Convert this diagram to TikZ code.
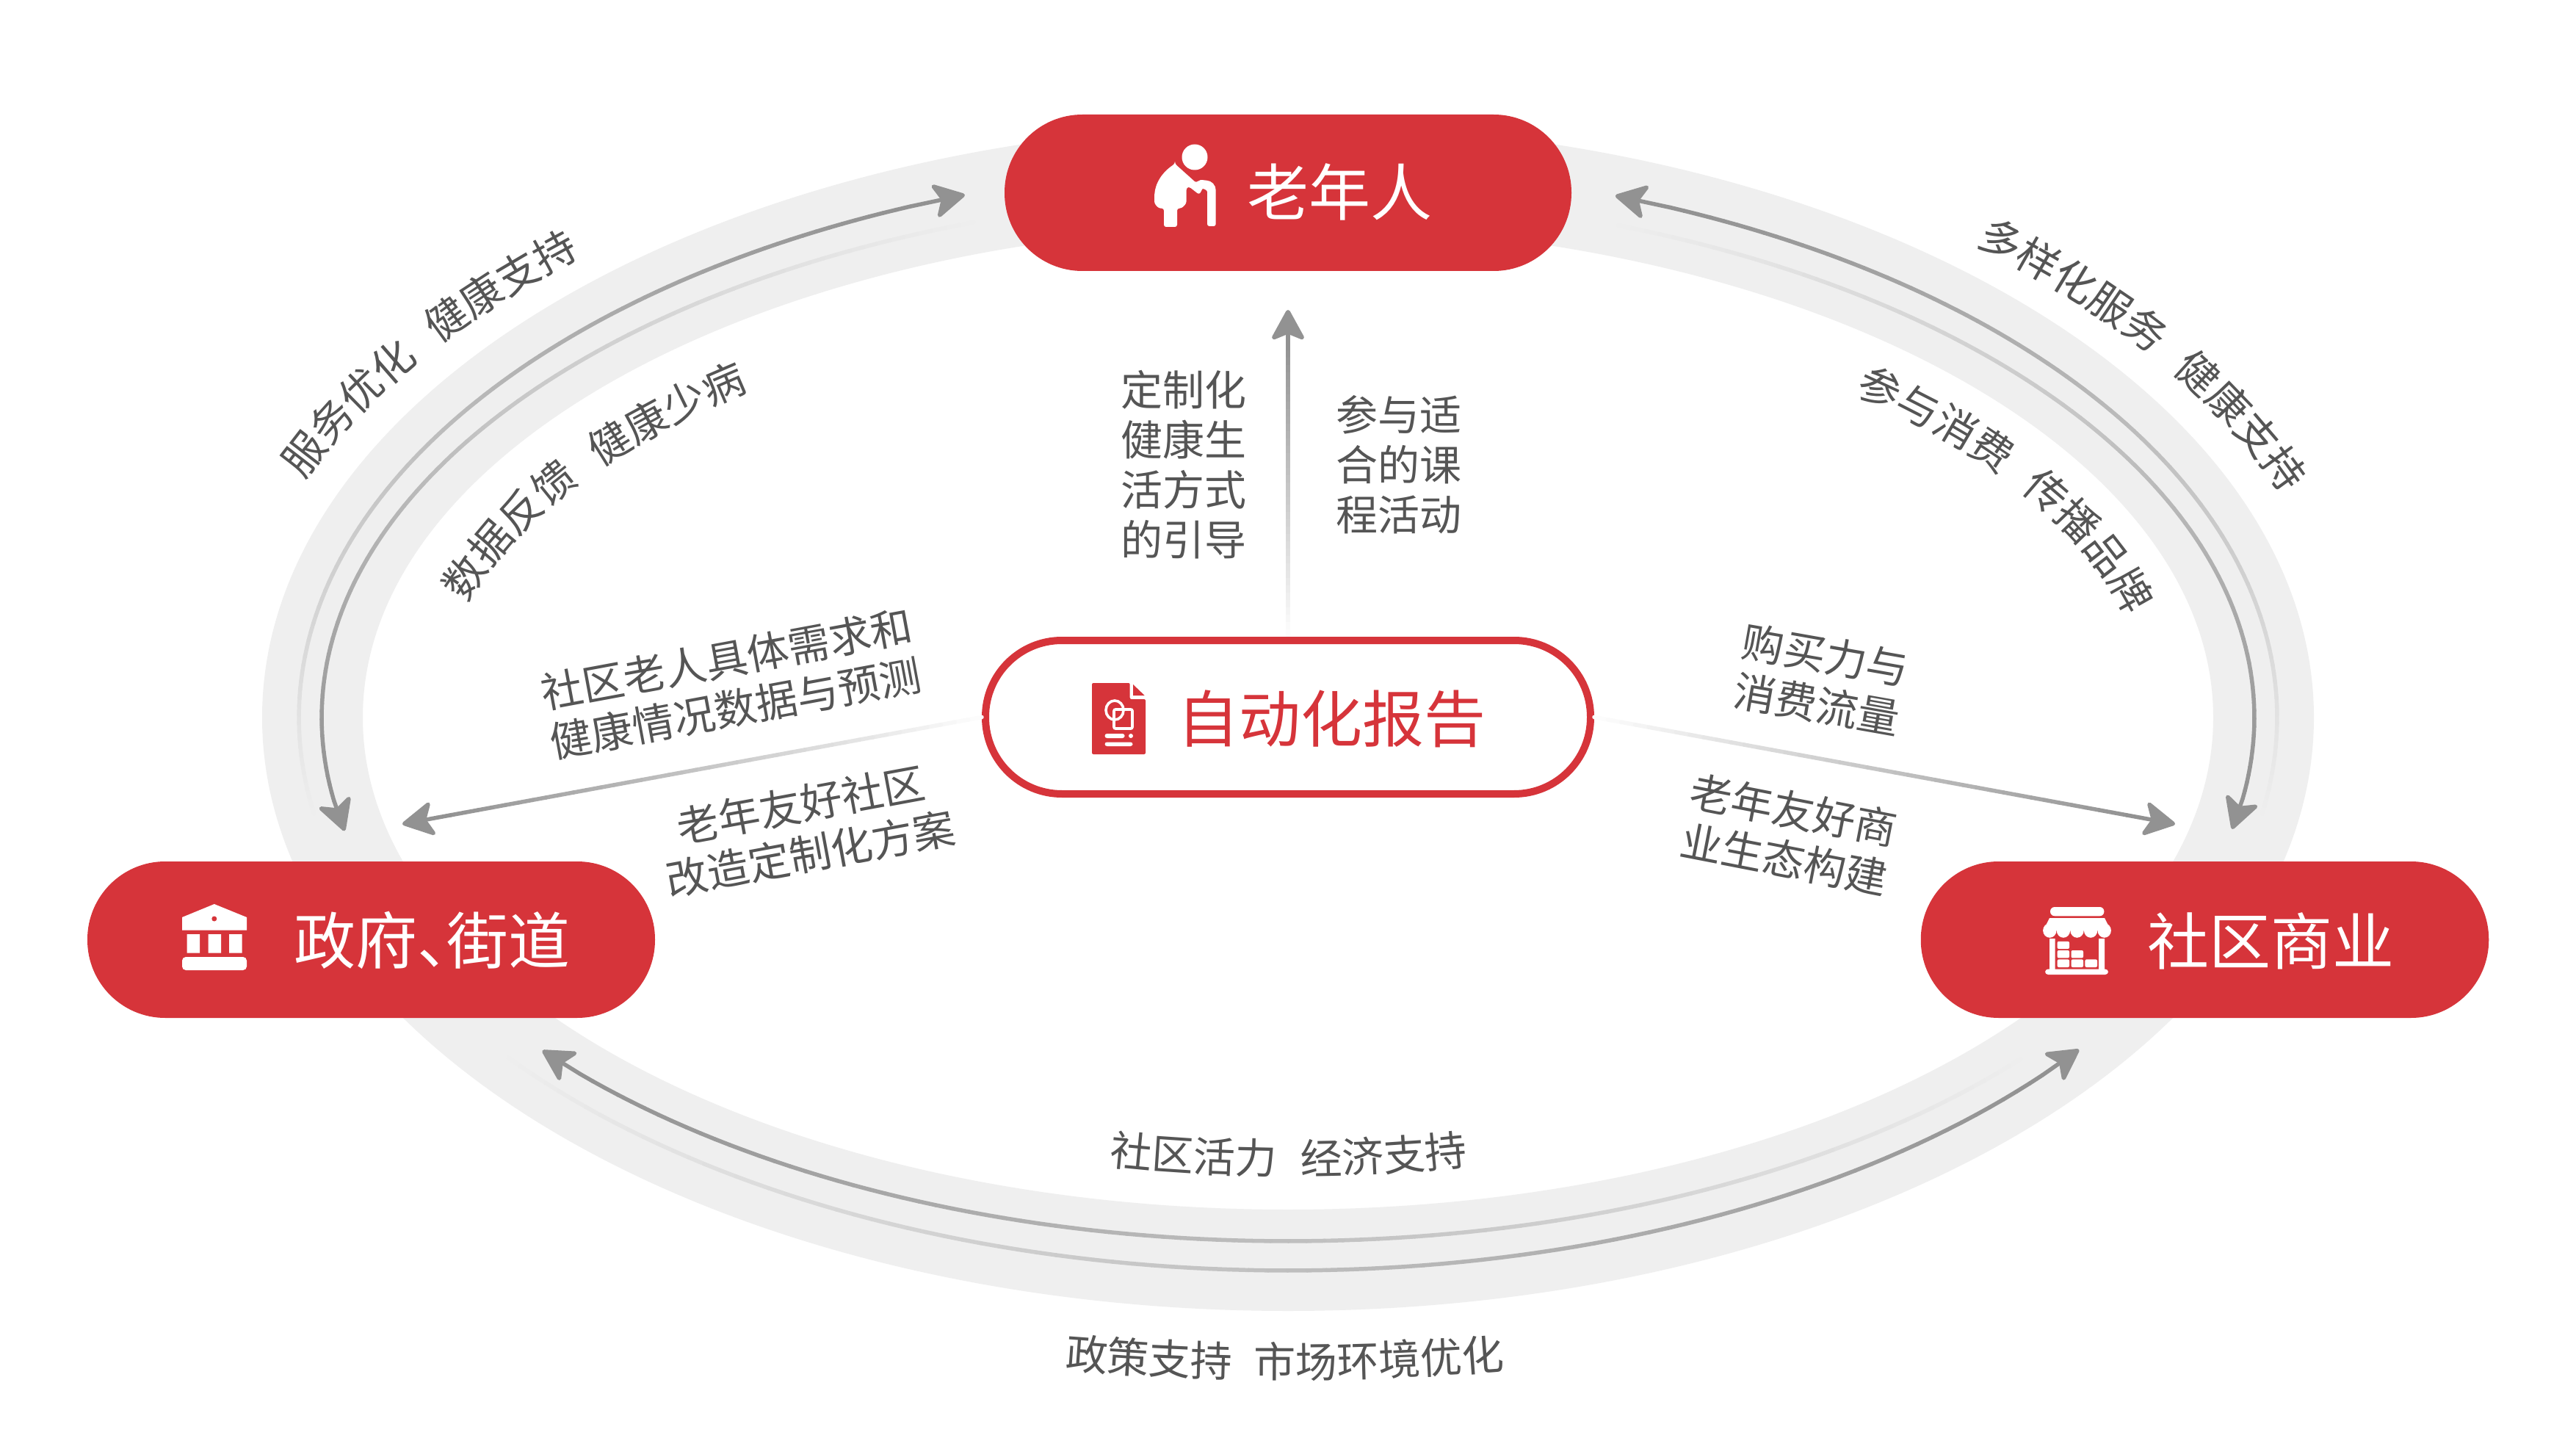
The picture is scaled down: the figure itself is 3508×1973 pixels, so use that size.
\documentclass[tikz,border=0pt]{standalone}
\usepackage{fontspec}
\setmainfont{Noto Sans CJK SC}
\usetikzlibrary{arrows.meta,calc,decorations.text}
\definecolor{brandred}{HTML}{D6343A}
\definecolor{bandgray}{HTML}{EFEFEF}
\definecolor{flowdark}{HTML}{929292}
\definecolor{labelgray}{HTML}{555555}
\tikzset{
  pill/.style={rounded corners=53pt,minimum width=#1,minimum height=106.5pt,inner sep=0pt,fill=brandred,text=white},
  reportpill/.style={rounded corners=52pt,minimum width=412pt,minimum height=104.5pt,inner sep=0pt,fill=white,draw=brandred,line width=5pt},
  titletext/.style={inner sep=0pt,font=\fontsize{42}{50}\selectfont,text=white},
  lab/.style={inner sep=0pt,align=center,text=labelgray,font=\fontsize{28.5}{34}\selectfont},
  flowseg/.style={line width=2.75pt,line cap=round},
  flowtip/.style={line width=2.75pt,-{Stealth[length=24pt,width=26pt,inset=6pt,round=false]}},
  stemtip/.style={line width=3pt,-{Stealth[length=23pt,width=25pt,inset=5pt,round=false]}}
}
% gradient arc on the ellipse round the centre: rx, ry, start angle, end angle
\newcommand{\flowarc}[4]{%
  \pgfmathsetmacro\tstop{#4-sign(#4-#3)*3.4}%
  \foreach \i in {1,...,90}{%
    \pgfmathsetmacro\ta{#3+(\tstop-#3)*(\i-1)/90}%
    \pgfmathsetmacro\tb{#3+(\tstop-#3)*\i/90}%
    \pgfmathsetmacro\pc{100*\i/90}%
    \draw[flowseg,color=flowdark!\pc!bandgray] ({1754+#1*cos(\ta)},{977-#2*sin(\ta)}) -- ({1754+#1*cos(\tb)},{977-#2*sin(\tb)});
  }%
  \draw[flowtip,color=flowdark] ({1754+#1*cos(\tstop)},{977-#2*sin(\tstop)}) -- ({1754+#1*cos(#4)},{977-#2*sin(#4)});
}
% gradient straight connector between two named points
\newcommand{\flowline}[2]{%
  \foreach \i in {1,...,40}{%
    \pgfmathsetmacro\fa{(\i-1)/40*0.94}%
    \pgfmathsetmacro\fb{\i/40*0.94}%
    \pgfmathsetmacro\pc{100*\i/40}%
    \draw[flowseg,color=flowdark!\pc!white] ($(#1)!\fa!(#2)$) -- ($(#1)!\fb!(#2)$);
  }%
  \draw[flowtip,color=flowdark] ($(#1)!0.94!(#2)$) -- (#2);
}
% curved label on an ellipse: rx, ry, start angle, end angle, text
\newcommand{\curvelab}[5]{%
  \path[decorate,decoration={text along path,text color=labelgray,
    text={|\fontsize{28.5}{34}\selectfont|#5}}]
    plot[domain=#3:#4,samples=80] ({1754+#1*cos(\x)},{977-#2*sin(\x)});
}
\begin{document}
\begin{tikzpicture}[x=0.5pt,y=-0.5pt]
\useasboundingbox (0,0) rectangle (3508,1973);
\fill[white] (0,0) rectangle (3508,1973);
% band
\fill[bandgray,even odd rule] (1754,977) ellipse [x radius=1397,y radius=808]
  (1754,977) ellipse [x radius=1260,y radius=670];
% cycle arcs
\flowarc{1347}{753}{190}{109.07}
\flowarc{1316}{713}{109}{192.5}
\flowarc{1347}{753}{-10}{70.67}
\flowarc{1316}{713}{70}{-12.3}
\flowarc{1316}{713}{319.3}{219.5}
\flowarc{1347}{753}{218}{323.1}
% nodes
\node[pill=386pt] (elder) at (1754,262.5) {};
\node[pill=386.5pt] (gov) at (505.5,1279.5) {};
\node[pill=386.75pt] (biz) at (3002.5,1279.5) {};
\node[reportpill] (report) at (1754,976.5) {};
% centre connectors
\coordinate (tipN) at (1754,422);
\coordinate (tipW) at (548,1122);
\coordinate (tipE) at (2962,1122);
\foreach \i in {1,...,40}{%
  \pgfmathsetmacro\fa{(\i-1)/40*0.9}%
  \pgfmathsetmacro\fb{\i/40*0.9}%
  \pgfmathsetmacro\pc{100*\i/40}%
  \draw[line width=3pt,color=flowdark!\pc!white] ($(report.north)!\fa!(tipN)$) -- ($(report.north)!\fb!(tipN)$);
}
\draw[stemtip,color=flowdark] ($(report.north)!0.9!(tipN)$) -- (tipN);
\flowline{report.west}{tipW}
\flowline{report.east}{tipE}
% titles
\node[titletext] (elderT) at (1824,261) {老年人};
\node[titletext,text=brandred] (reportT) at (1813,979) {自动化报告};
\node[titletext] (govT) at (588,1280) {政府、\hspace{-22pt}街道};
\node[titletext] (bizT) at (3092,1281) {社区商业};
% elder icon
\fill[white] (1627,214) ellipse [x radius=17.5,y radius=17.5];
\fill[white,rounded corners=1.5pt] (1600,223) -- (1629,249) .. controls (1633,245) and (1637,245) .. (1640,245.5)
  .. controls (1650,246) and (1655.7,252) .. (1655.7,262) -- (1655.7,308) -- (1644,308) -- (1644,264)
  .. controls (1644,259) and (1638,256) .. (1636,260) -- (1633,265) -- (1619.4,254.3) -- (1615.6,255.7)
  -- (1615.6,277) -- (1609,283.7) -- (1603,283.7) -- (1603,309) -- (1585,309) -- (1585,283.7) -- (1578,283.7) -- (1572,277)
  -- (1572,268) .. controls (1573,250) and (1582,235) .. (1600,223) -- cycle;
% report icon
\fill[brandred,rounded corners=1pt] (1487,930) -- (1538.7,930) -- (1538.7,952) -- (1560,952) -- (1560,1027) -- (1487,1027) -- cycle;
\fill[brandred] (1543,932) -- (1558.7,947) -- (1543,947) -- cycle;
\draw[white,line width=1.8pt] (1518,967) ellipse [x radius=12,y radius=13];
\draw[white,line width=1.8pt,rounded corners=1pt] (1517,966) rectangle (1542,992);
\fill[white,rounded corners=1.5pt] (1504.5,999) rectangle (1531.6,1005);
\fill[white] (1540,1002) circle [radius=3];
\fill[white,rounded corners=1.5pt] (1504.5,1010.5) rectangle (1542.5,1016);
% government icon
\fill[white] (291.8,1231) -- (336,1249) -- (336,1266.5) -- (248,1266.5) -- (248,1249) -- cycle;
\fill[brandred] (291.8,1251) circle [radius=3.5];
\fill[white] (254.6,1272) rectangle (272,1297.6) (283.7,1272) rectangle (301,1297.6) (312,1272) rectangle (329.6,1297.6);
\fill[white,rounded corners=2.5pt] (248,1321) -- (248,1303) -- (336,1303) -- (336,1321) -- cycle;
% shop icon
\fill[white,rounded corners=3pt] (2792,1235) rectangle (2865.4,1247.3);
\fill[white] (2791,1250) -- (2866,1250) -- (2874.5,1267) -- (2782.5,1267) -- cycle;
\foreach \cx in {2791.3,2809.9,2828.5,2847.1,2865.7}{\fill[white] (\cx,1267) ellipse [x radius=9.2,y radius=9.8];}
\fill[white] (2791,1278) rectangle (2798.6,1321) (2858,1278) rectangle (2866,1321);
\fill[white,rounded corners=2pt] (2785,1319.6) rectangle (2871,1327);
\fill[white,rounded corners=1pt] (2801.6,1281.8) rectangle (2818,1292)
  (2801.6,1294) rectangle (2818,1304.4) (2820.5,1294) rectangle (2837,1304.4)
  (2801.6,1306.4) rectangle (2818,1317) (2820.5,1306.4) rectangle (2837,1317) (2839.4,1306.4) rectangle (2856,1317);
% curved labels
\curvelab{1452}{840}{157.4}{110}{服务优化{\hskip17pt}健康支持}
\curvelab{1453}{842}{49.9}{5}{多样化服务{\hskip17pt}健康支持}
\curvelab{1161}{575}{164.4}{105}{数据反馈{\hskip17pt}健康少病}
\curvelab{1176}{585}{49}{-10}{参与消费{\hskip17pt}传播品牌}
\curvelab{1200}{622}{258.3}{290}{社区活力{\hskip16.5pt}经济支持}
\curvelab{1800}{899}{260.28}{282}{政策支持{\hskip15pt}市场环境优化}
% straight labels
\node[lab] (needs) at (995.5,931) [rotate=10.5] {社区老人具体需求和\\健康情况数据与预测};
\node[lab] (plan) at (1097,1129) [rotate=10.5] {老年友好社区\\改造定制化方案};
\node[lab] (buy) at (2480,925.5) [rotate=-10] {购买力与\\消费流量};
\node[lab] (eco) at (2436,1136.5) [rotate=-11] {老年友好商\\业生态构建};
\node[lab] (guide) at (1612,633) {定制化\\健康生\\活方式\\的引导};
\node[lab] (join) at (1905,633) {参与适\\合的课\\程活动};
\end{tikzpicture}
\end{document}
